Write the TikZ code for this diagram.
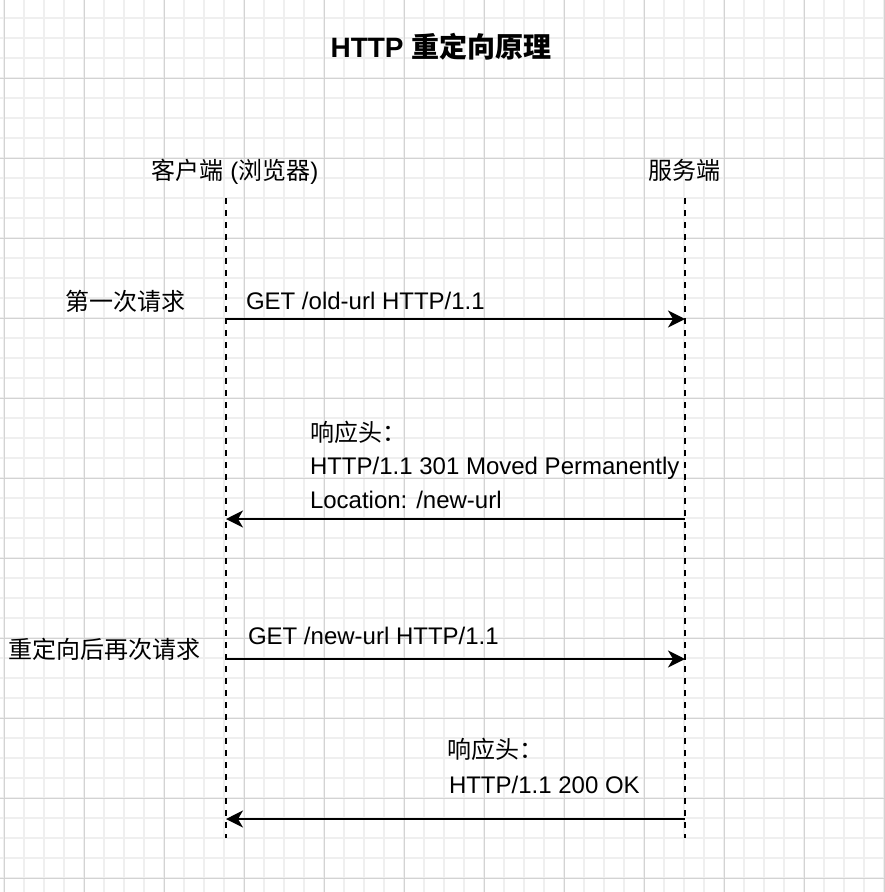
\documentclass[tikz,border=0pt]{standalone}
\usepackage{fontspec}
\setmainfont{Liberation Sans}
\newfontfamily\cjk{Noto Sans CJK SC}
\usetikzlibrary{arrows.meta}
\definecolor{gridminor}{HTML}{EFEFEF}
\definecolor{gridmajor}{HTML}{D3D3D3}
\tikzset{
  every node/.style={inner sep=0pt, outer sep=0pt},
  label text/.style={font=\fontsize{24pt}{28pt}\selectfont, anchor=base west},
  centred text/.style={font=\fontsize{24pt}{28pt}\selectfont, anchor=base},
  lifeline/.style={line width=2pt, dash pattern=on 6pt off 6pt},
  message/.style={line width=2pt, -{Stealth[length=17pt,width=17pt,inset=5pt]}},
}
\begin{document}
\begin{tikzpicture}[x=1pt, y=-1pt]
  % canvas and grid
  \fill[white] (0,0) rectangle (884,892);
  \useasboundingbox (0,0) rectangle (884,892);
  \foreach \gx in {4,24,...,884} \draw[gridminor, line width=1.2pt] (\gx,0) -- (\gx,892);
  \foreach \gy in {18,38,...,892} \draw[gridminor, line width=1.2pt] (0,\gy) -- (884,\gy);
  \foreach \gx in {4,84,...,884} \draw[gridmajor, line width=1pt] (\gx,0) -- (\gx,892);
  \foreach \gy in {78,158,...,892} \draw[gridmajor, line width=1pt] (0,\gy) -- (884,\gy);

  % title
  \node[anchor=base, font=\fontsize{28pt}{32pt}\selectfont\bfseries] (title) at (441,57)
    {HTTP {\cjk\bfseries 重定向原理}};

  % participants
  \node[centred text] (client) at (235,179) {{\cjk 客户端} ({\cjk 浏览器})};
  \node[centred text] (server) at (684,179) {\cjk 服务端};

  % lifelines
  \coordinate (ctop) at (226,198);
  \coordinate (cbot) at (226,838);
  \coordinate (stop) at (685,198);
  \coordinate (sbot) at (685,838);
  \draw[lifeline] (ctop) -- (cbot);
  \draw[lifeline] (stop) -- (sbot);

  % message anchors on the lifelines
  \coordinate (c1) at (226,319);  \coordinate (s1) at (685,319);
  \coordinate (c2) at (226,519);  \coordinate (s2) at (685,519);
  \coordinate (c3) at (226,659);  \coordinate (s3) at (685,659);
  \coordinate (c4) at (226,819);  \coordinate (s4) at (685,819);

  % first request
  \node[centred text] (step1) at (125,310) {\cjk 第一次请求};
  \node[label text] (req1) at (246,309) {GET /old-url HTTP/1.1};
  \draw[message] (c1) -- (s1);

  % redirect response
  \node[label text] (resp1a) at (310,441) {\cjk 响应头：};
  \node[label text] (resp1b) at (310,474.5) {HTTP/1.1 301 Moved Permanently};
  \node[label text] (resp1c) at (310,508) {Location: /new-url};
  \draw[message] (s2) -- (c2);

  % second request
  \node[centred text] (step2) at (105,658) {\cjk 重定向后再次请求};
  \node[label text] (req2) at (248,644.5) {GET /new-url HTTP/1.1};
  \draw[message] (c3) -- (s3);

  % final response
  \node[label text] (resp2a) at (447,758) {\cjk 响应头：};
  \node[label text] (resp2b) at (449,793.5) {HTTP/1.1 200 OK};
  \draw[message] (s4) -- (c4);
\end{tikzpicture}
\end{document}
